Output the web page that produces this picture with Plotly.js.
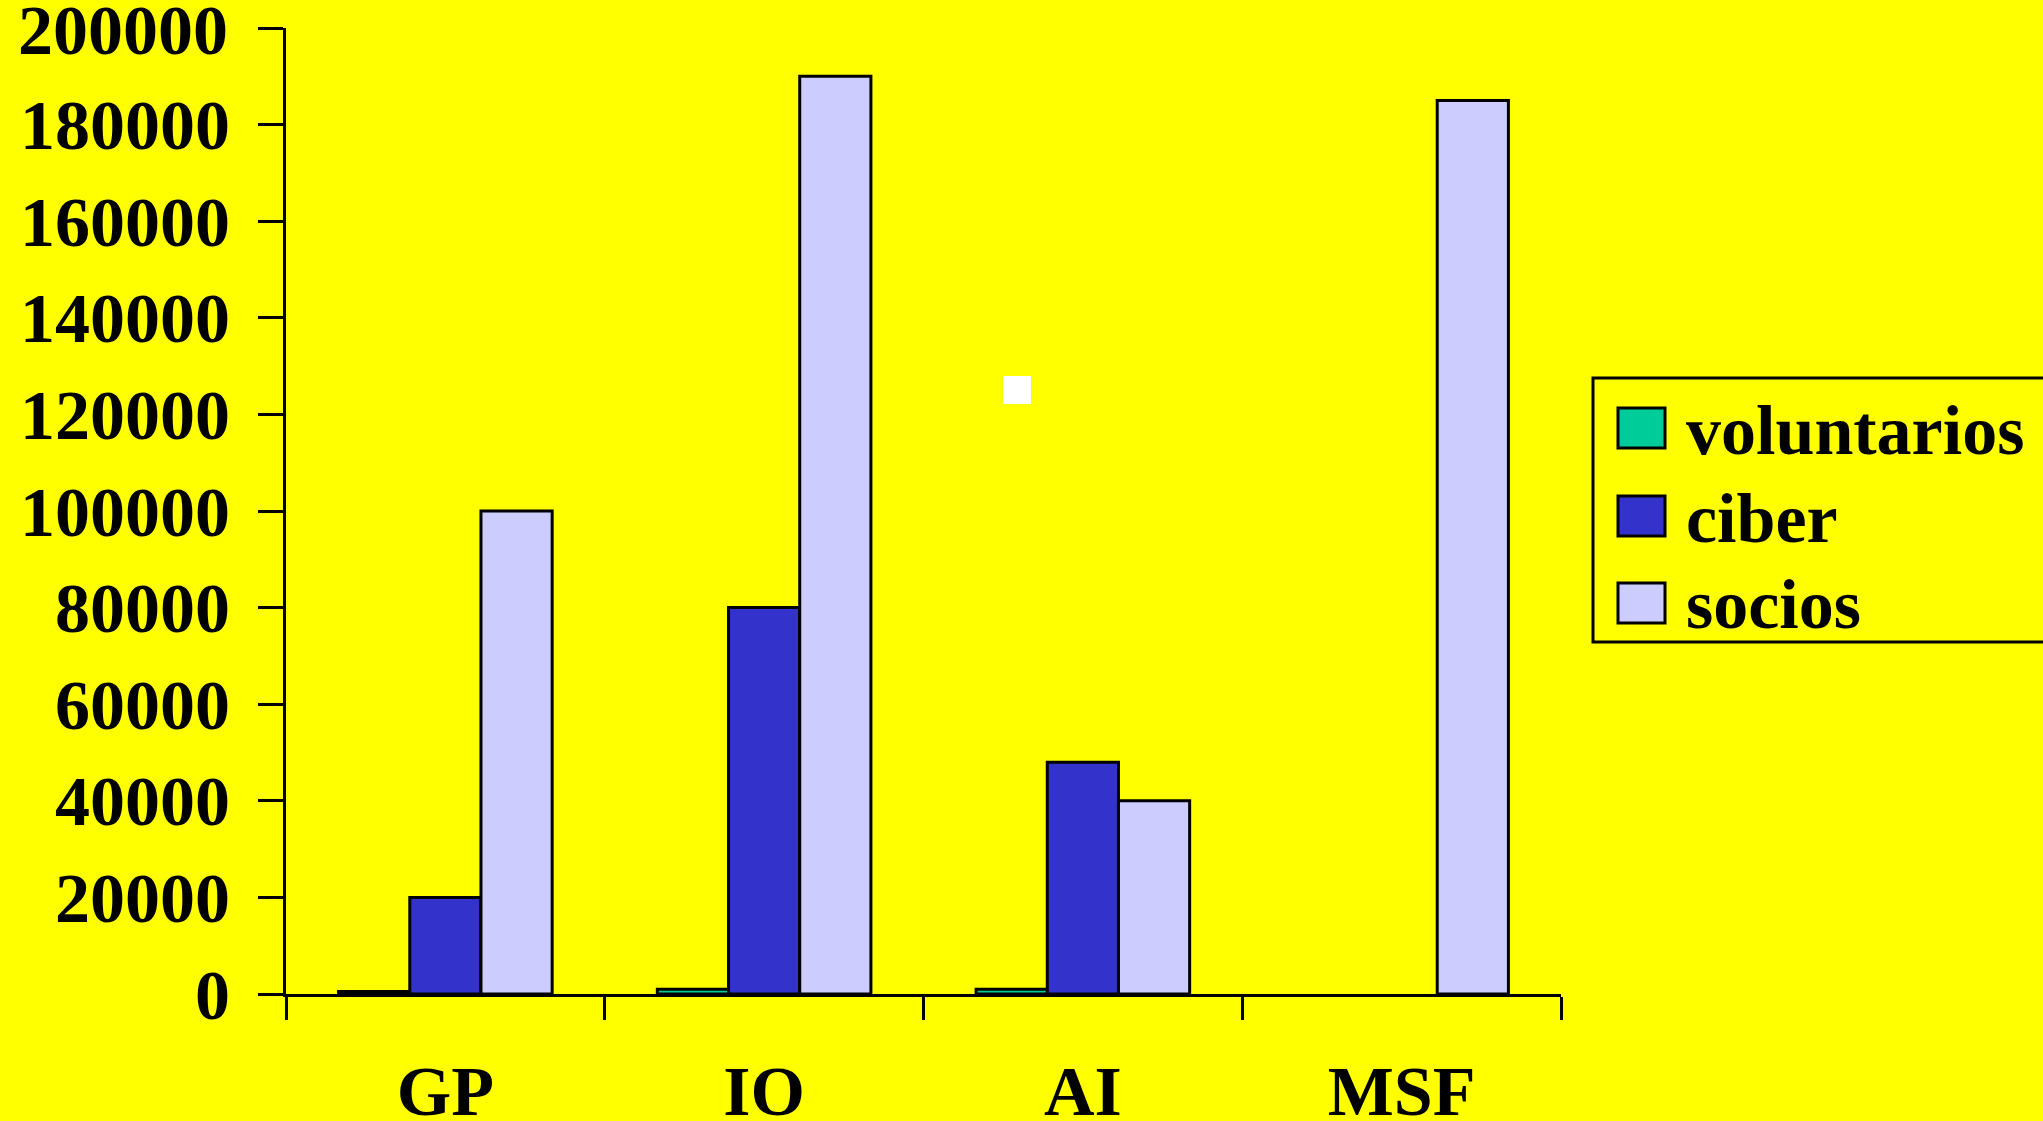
<!DOCTYPE html>
<html>
<head>
<meta charset="utf-8">
<script src="https://cdn.plot.ly/plotly-3.0.1.min.js"></script>
<style>html,body{margin:0;padding:0;background:#FFFF00;}#chart{width:2043px;height:1121px;}</style>
</head>
<body>
<div id="chart"></div>
<script>
const categories = ["GP", "IO", "AI", "MSF"];
const seriesNames = ["voluntarios", "ciber", "socios"];
const voluntarios = [500, 1000, 1000, null];
const ciber = [20000, 80000, 48000, null];
const socios = [100000, 190000, 40000, 185000];
const seriesColors = ["#00CC99", "#3333CC", "#CCCCFF"];
const yTickVals = [0, 20000, 40000, 60000, 80000, 100000, 120000, 140000, 160000, 180000, 200000];
const yTickText = yTickVals.map(String);

const W = 2043, H = 1121;
const L = 286, R = 1561, T = 28, B = 994;
const px = x => (x - L) / (R - L);
const py = y => (B - y) / (B - T);
const yMax = 200000;

const font = {family: "Liberation Serif, Times New Roman, serif", color: "#000", size: 70, weight: "bold"};
const seriesData = [voluntarios, ciber, socios];
const traces = seriesNames.map((n, i) => ({
  type: "bar", name: n, x: categories, y: seriesData[i],
  marker: {color: seriesColors[i], line: {color: "#000", width: 3}},
  showlegend: false, hoverinfo: "x+y+name"
}));

const shapes = [];
const annotations = [];
// custom legend
shapes.push({type: "rect", xref: "paper", yref: "paper", x0: px(1593), x1: px(2120), y0: py(378), y1: py(642), line: {color: "#000", width: 3}, fillcolor: "rgba(0,0,0,0)"});
const centers = [428, 516, 603];
seriesNames.forEach((n, i) => {
  const c = centers[i];
  shapes.push({type: "rect", xref: "paper", yref: "paper", x0: px(1618), x1: px(1665), y0: py(c - 20), y1: py(c + 20), line: {color: "#000", width: 3}, fillcolor: seriesColors[i]});
  annotations.push({xref: "paper", yref: "paper", x: px(1684), y: py(c + 2), xanchor: "left", yanchor: "middle", text: n, showarrow: false, font: font});
});
// top y tick label (Plotly drops it at the very edge of the canvas)
annotations.push({xref: "paper", yref: "y", x: px(230), y: yMax, xanchor: "right", yanchor: "middle", text: yTickText[yTickText.length - 1], showarrow: false, font: font, yshift: -2});
// small white square
shapes.push({type: "rect", xref: "paper", yref: "paper", x0: px(1003), x1: px(1031), y0: py(376), y1: py(404), line: {width: 0}, fillcolor: "#FFFFFF"});

const layout = {
  width: W, height: H,
  paper_bgcolor: "#FFFF00", plot_bgcolor: "#FFFF00",
  margin: {l: L, r: W - R, t: T, b: H - B},
  barmode: "group", bargap: 0.33, bargroupgap: 0,
  showlegend: false,
  font: font,
  xaxis: {
    type: "category", tickson: "boundaries", ticks: "outside", ticklen: 23, tickwidth: 3, tickcolor: "#000",
    showline: true, linecolor: "#000", linewidth: 3, showgrid: false, zeroline: false,
    tickfont: font, ticklabelstandoff: 34
  },
  yaxis: {
    range: [0, yMax], tickvals: yTickVals, ticktext: yTickText.map((t, i) => i === yTickText.length - 1 ? "" : t),
    ticks: "outside", ticklen: 25, tickwidth: 3, tickcolor: "#000",
    showline: true, linecolor: "#000", linewidth: 3, showgrid: false, zeroline: false,
    tickfont: font, ticklabelstandoff: 14
  },
  shapes: shapes, annotations: annotations
};
Plotly.newPlot("chart", traces, layout, {displayModeBar: false, staticPlot: true});
</script>
</body>
</html>
